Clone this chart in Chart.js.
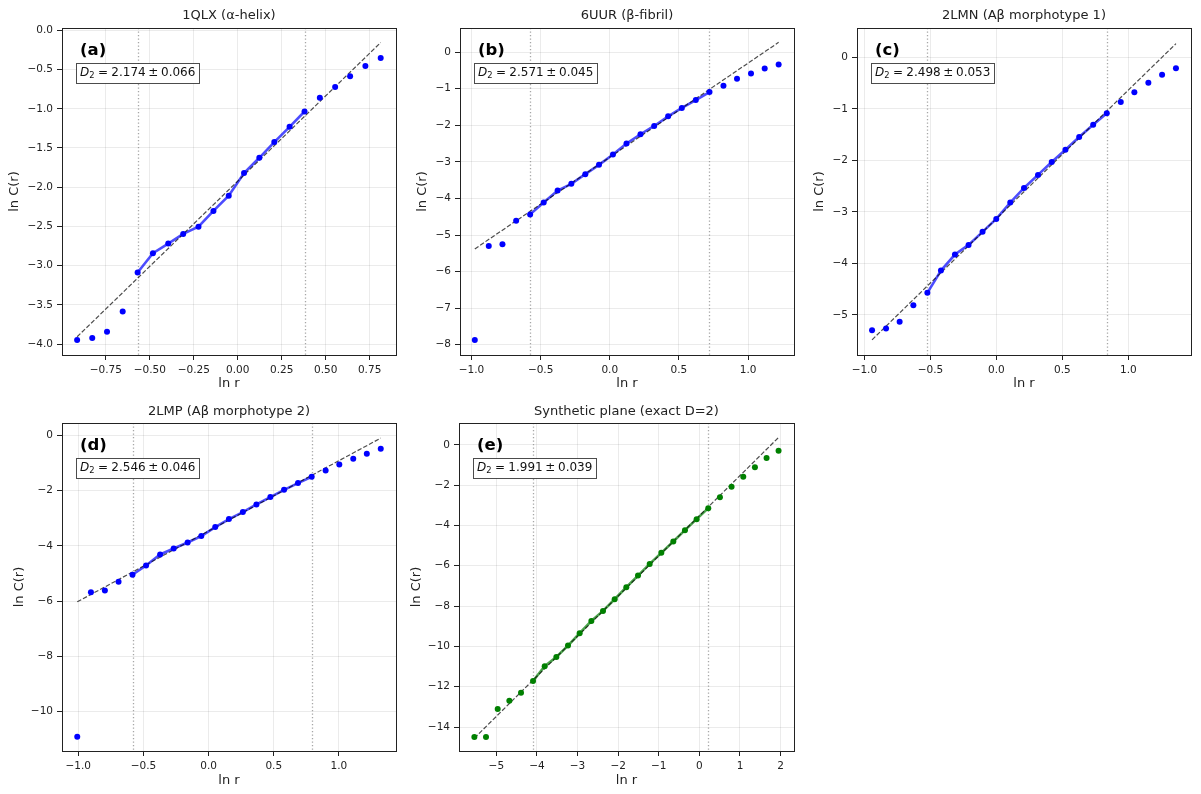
<!DOCTYPE html>
<html>
<head>
<meta charset="utf-8">
<script src="https://cdn.jsdelivr.net/npm/chart.js@4.4.1/dist/chart.umd.min.js"></script>
<style>
  body { margin: 0; background: #fff; width: 1201px; height: 794px; position: relative; overflow: hidden; }
  canvas { position: absolute; }
</style>
</head>
<body>
<canvas id="ca" width="400" height="395" style="left:0;top:0"></canvas>
<canvas id="cb" width="400" height="395" style="left:400px;top:0"></canvas>
<canvas id="cc" width="401" height="395" style="left:800px;top:0"></canvas>
<canvas id="cd" width="400" height="399" style="left:0;top:395px"></canvas>
<canvas id="ce" width="400" height="399" style="left:400px;top:395px"></canvas>
<script>
// (a) 1QLX
const aLnR = [-0.913, -0.827, -0.743, -0.654, -0.569, -0.482, -0.395, -0.310, -0.223, -0.138, -0.051, 0.036, 0.123, 0.208, 0.295, 0.380, 0.467, 0.554, 0.639, 0.726, 0.813];
const aLnC = [-3.949, -3.924, -3.843, -3.584, -3.088, -2.842, -2.719, -2.596, -2.503, -2.303, -2.108, -1.820, -1.625, -1.425, -1.230, -1.035, -0.861, -0.721, -0.585, -0.454, -0.352];
const aFit = [-0.569, 0.380];
const aD2 = [2.174, 0.066];
const aIntercept = -1.923;

// (b) 6UUR
const bLnR = [-0.976, -0.875, -0.776, -0.677, -0.576, -0.478, -0.377, -0.278, -0.177, -0.078, 0.023, 0.121, 0.222, 0.321, 0.422, 0.521, 0.622, 0.721, 0.822, 0.920, 1.021, 1.120, 1.221];
const bLnC = [-7.873, -5.300, -5.255, -4.609, -4.436, -4.109, -3.782, -3.600, -3.336, -3.082, -2.800, -2.500, -2.245, -2.018, -1.755, -1.527, -1.309, -1.091, -0.918, -0.727, -0.582, -0.445, -0.336];
const bFit = [-0.576, 0.721];
const bD2 = [2.571, 0.045];
const bIntercept = -2.871;

// (c) 2LMN
const cLnR = [-0.942, -0.836, -0.733, -0.629, -0.523, -0.420, -0.314, -0.211, -0.105, -0.001, 0.105, 0.209, 0.315, 0.419, 0.523, 0.627, 0.733, 0.836, 0.942, 1.045, 1.151, 1.255, 1.360];
const cLnC = [-5.298, -5.265, -5.136, -4.812, -4.573, -4.140, -3.829, -3.642, -3.389, -3.137, -2.820, -2.536, -2.283, -2.031, -1.792, -1.546, -1.307, -1.087, -0.867, -0.679, -0.492, -0.336, -0.213];
const cFit = [-0.523, 0.836];
const cD2 = [2.498, 0.053];
const cIntercept = -3.132;

// (d) 2LMP
const dLnR = [-1.008, -0.903, -0.796, -0.691, -0.584, -0.480, -0.372, -0.268, -0.161, -0.056, 0.051, 0.156, 0.263, 0.367, 0.474, 0.579, 0.686, 0.791, 0.898, 1.003, 1.110, 1.214, 1.321];
const dLnC = [-10.918, -5.676, -5.616, -5.302, -5.048, -4.710, -4.312, -4.094, -3.877, -3.647, -3.321, -3.031, -2.778, -2.500, -2.234, -1.969, -1.727, -1.498, -1.268, -1.051, -0.845, -0.664, -0.483];
const dFit = [-0.584, 0.791];
const dD2 = [2.546, 0.046];
const dIntercept = -3.461;

// (e) synthetic plane
const eLnR = [-5.541, -5.254, -4.966, -4.679, -4.392, -4.096, -3.809, -3.522, -3.235, -2.948, -2.660, -2.373, -2.086, -1.799, -1.511, -1.224, -0.937, -0.642, -0.355, -0.068, 0.219, 0.506, 0.793, 1.081, 1.368, 1.655, 1.950];
const eLnC = [-14.496, -14.496, -13.106, -12.692, -12.295, -11.716, -10.988, -10.524, -9.962, -9.350, -8.737, -8.241, -7.662, -7.066, -6.487, -5.908, -5.362, -4.799, -4.236, -3.690, -3.144, -2.598, -2.085, -1.589, -1.109, -0.662, -0.298];
const eFit = [-4.096, 0.219];
const eD2 = [1.991, 0.039];
const eIntercept = -3.52;

const titles = ['1QLX (\u03b1-helix)', '6UUR (\u03b2-fibril)', '2LMN (A\u03b2 morphotype 1)', '2LMP (A\u03b2 morphotype 2)', 'Synthetic plane (exact D=2)'];
const letters = ['(a)', '(b)', '(c)', '(d)', '(e)'];

const FONT = 'DejaVu Sans';
Chart.defaults.font.family = FONT;
Chart.defaults.color = '#222';

function fmt(dec) {
    return v => {
        if (Math.abs(v) < 1e-9) v = 0;
        return v.toFixed(dec).replace('-', '\u2212');
    };
}

const decoPlugin = {
    id: 'deco',
    beforeDatasetsDraw(chart, args, o) {
        const { ctx, chartArea: a, scales: { x } } = chart;
        ctx.save();
        ctx.strokeStyle = 'rgba(128,128,128,0.7)';
        ctx.lineWidth = 1.3;
        ctx.setLineDash([1.3, 2.2]);
        o.fit.forEach(v => {
            const px = Math.round(x.getPixelForValue(v)) + 0.5;
            ctx.beginPath();
            ctx.moveTo(px, a.top);
            ctx.lineTo(px, a.bottom);
            ctx.stroke();
        });
        ctx.restore();
    },
    afterDraw(chart, args, o) {
        const { ctx, chartArea: a } = chart;
        ctx.save();
        // frame
        ctx.strokeStyle = '#222';
        ctx.lineWidth = 1;
        ctx.strokeRect(Math.round(a.left) + 0.5, Math.round(a.top) + 0.5, Math.round(a.right - a.left), Math.round(a.bottom - a.top));

        // title
        ctx.fillStyle = '#222';
        ctx.font = `13px ${FONT}`;
        ctx.textAlign = 'center';
        ctx.textBaseline = 'middle';
        ctx.fillText(o.title, (a.left + a.right) / 2, a.top - o.titleGap);

        // panel letter
        ctx.fillStyle = '#000';
        ctx.font = `bold 16.5px ${FONT}`;
        ctx.textAlign = 'left';
        ctx.fillText(o.letter, a.left + 18, a.top + 23);

        // D2 box
        const fs = 12;
        const val = o.d2[0].toFixed(3), err = o.d2[1].toFixed(3);
        ctx.font = `italic ${fs}px ${FONT}`;
        const wD = ctx.measureText('D').width;
        ctx.font = `${fs * 0.7}px ${FONT}`;
        const w2 = ctx.measureText('2').width;
        ctx.font = `${fs}px ${FONT}`;
        const wEq = ctx.measureText('=').width, wVal = ctx.measureText(val).width;
        const wPm = ctx.measureText('\u00b1').width, wErr = ctx.measureText(err).width;
        const g1 = 0.28 * fs, g2 = 0.22 * fs;
        const total = wD + w2 + g1 + wEq + g1 + wVal + g2 + wPm + g2 + wErr;
        const bx = a.left + 14, yc = a.top + 44.5, pad = 4;
        ctx.fillStyle = '#fff';
        ctx.fillRect(Math.round(bx) + 0.5, Math.round(yc - 10) + 0.5, Math.round(total + 2 * pad), 20);
        ctx.strokeStyle = 'rgba(0,0,0,0.7)';
        ctx.strokeRect(Math.round(bx) + 0.5, Math.round(yc - 10) + 0.5, Math.round(total + 2 * pad), 20);

        ctx.fillStyle = '#111';
        let tx = bx + pad;
        ctx.font = `italic ${fs}px ${FONT}`;
        ctx.fillText('D', tx, yc); tx += wD;
        ctx.font = `${fs * 0.7}px ${FONT}`;
        ctx.fillText('2', tx, yc + 3); tx += w2 + g1;
        ctx.font = `${fs}px ${FONT}`;
        ctx.fillText('=', tx, yc); tx += wEq + g1;
        ctx.fillText(val, tx, yc); tx += wVal + g2;
        ctx.fillText('\u00b1', tx, yc); tx += wPm + g2;
        ctx.fillText(err, tx, yc);
        ctx.restore();
    }
};

function axis(min, max, step, dec, title, fitFn) {
    return {
        type: 'linear',
        min: min, max: max,
        afterFit: fitFn,
        title: { display: true, text: title, font: { size: 13 }, padding: 0, color: '#222' },
        ticks: { stepSize: step, includeBounds: false, callback: fmt(dec), font: { size: 10.5 }, padding: 4, color: '#222', maxRotation: 0, autoSkip: false },
        grid: { color: 'rgba(0,0,0,0.1)', lineWidth: 0.8, tickColor: '#222', tickLength: 5, tickWidth: 1 },
        border: { display: false }
    };
}

function makePanel(id, i, lnR, lnC, fit, d2, icpt, color, lineColor, xr, yr, lay) {
    const pts = lnR.map((x, k) => ({ x: x, y: lnC[k] }));
    const fitPts = pts.filter(p => p.x >= fit[0] - 1e-9 && p.x <= fit[1] + 1e-9);
    const x0 = lnR[0], x1 = lnR[lnR.length - 1];
    const dash = [{ x: x0, y: d2[0] * x0 + icpt }, { x: x1, y: d2[0] * x1 + icpt }];
    new Chart(document.getElementById(id), {
        type: 'scatter',
        data: {
            datasets: [
                { data: pts, backgroundColor: color, borderColor: color, pointRadius: 3, borderWidth: 0, order: 0 },
                { data: dash, showLine: true, borderColor: 'rgba(0,0,0,0.7)', borderWidth: 1.2, borderDash: [4.5, 2], pointRadius: 0, order: 1 },
                { data: fitPts, showLine: true, borderColor: lineColor, borderWidth: 2.6, pointRadius: 0, order: 2 }
            ]
        },
        options: {
            responsive: false,
            maintainAspectRatio: false,
            animation: false,
            events: [],
            layout: { padding: lay.pad },
            plugins: {
                legend: { display: false },
                tooltip: { enabled: false },
                deco: { fit: fit, d2: d2, title: titles[i], letter: letters[i], titleGap: lay.tg }
            },
            scales: {
                x: axis(xr[0], xr[1], xr[2], xr[3], 'ln r', s => { s.height = lay.xh; }),
                y: axis(yr[0], yr[1], yr[2], yr[3], 'ln C(r)', s => { s.width = lay.yw; })
            }
        },
        plugins: [decoPlugin]
    });
}

const BLUE = '#0000ff', BLUE_LINE = 'rgba(0,0,255,0.7)';
const GREEN = '#008000', GREEN_LINE = 'rgba(0,128,0,0.7)';

makePanel('ca', 0, aLnR, aLnC, aFit, aD2, aIntercept, BLUE, BLUE_LINE,
    [-0.999, 0.9, 0.25, 2], [-4.14, 0.03, 0.5, 1],
    { pad: { left: 7, right: 3, top: 28, bottom: 4 }, yw: 55, xh: 36, tg: 12.5 });
makePanel('cb', 1, bLnR, bLnC, bFit, bD2, bIntercept, BLUE, BLUE_LINE,
    [-1.083, 1.332, 0.5, 1], [-8.28, 0.66, 1, 0],
    { pad: { left: 15, right: 6, top: 28, bottom: 4 }, yw: 45, xh: 36, tg: 12.5 });
makePanel('cc', 2, cLnR, cLnC, cFit, cD2, cIntercept, BLUE, BLUE_LINE,
    [-1.056, 1.474, 0.5, 1], [-5.78, 0.57, 1, 0],
    { pad: { left: 12, right: 10, top: 28, bottom: 4 }, yw: 45, xh: 36, tg: 12.5 });
makePanel('cd', 3, dLnR, dLnC, dFit, dD2, dIntercept, BLUE, BLUE_LINE,
    [-1.125, 1.438, 0.5, 1], [-11.43, 0.45, 2, 0],
    { pad: { left: 12, right: 3, top: 28, bottom: 6 }, yw: 50, xh: 37, tg: 11 });
makePanel('ce', 4, eLnR, eLnC, eFit, eD2, eIntercept, GREEN, GREEN_LINE,
    [-5.919, 2.33, 1, 0], [-15.19, 1.08, 2, 0],
    { pad: { left: 9, right: 6, top: 28, bottom: 6 }, yw: 50, xh: 37, tg: 11 });
</script>
</body>
</html>
